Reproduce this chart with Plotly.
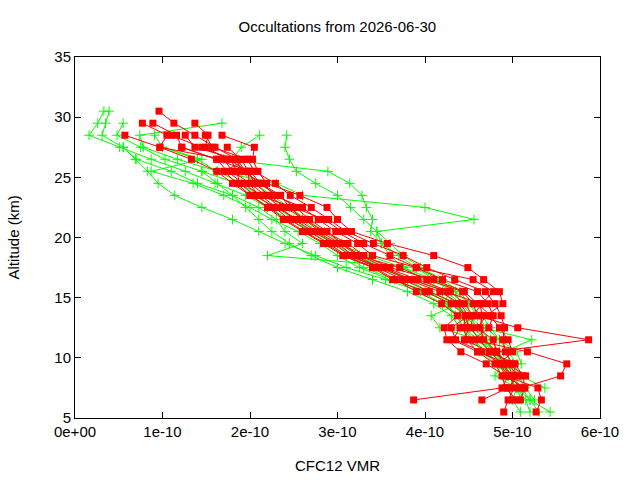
import plotly.graph_objects as go

UNIT = 1e-10  # VMR values below are in units of 1e-10

ALT = [30.5, 29.5, 28.5, 27.5, 26.5, 25.5, 24.5, 23.5, 22.5, 21.5, 20.5, 19.5, 18.5,
       17.5, 16.5, 15.5, 14.5, 13.5, 12.5, 11.5, 10.5, 9.5, 8.5, 7.5, 6.5, 5.5]

N = None
RED_PROFILES = [
    [0.96, 1.13, 1.37, 1.60, 1.85, 1.95, 2.10, 2.32, 2.52, 2.68, 2.88, 3.05, 3.26, 3.55, 3.92, 4.29, 4.45, 4.55, 4.52, 4.62, 4.74, 4.88, 4.97, 5.02, 4.95, 4.90],
    [N, 0.77, 1.05, 0.97, 1.33, 1.62, 1.80, 2.00, 2.22, 2.40, 2.62, 2.86, 3.08, 3.42, 3.66, 3.90, 4.19, 4.37, 4.22, 4.25, 4.41, 4.70, 4.92, 5.29, 5.33, 5.27],
    [N, 0.89, 1.16, 1.22, 1.62, 1.74, 1.92, 2.12, 2.30, 2.55, 2.75, 3.00, 3.18, 3.50, 3.80, 4.17, 4.40, 4.50, 4.30, 4.35, 4.65, 4.86, 4.95, 4.88, 3.87, N],
    [N, 1.37, 1.52, 1.49, 1.75, 1.98, 2.05, 2.22, 2.40, 2.62, 2.80, 3.03, 3.23, 3.71, 4.02, 4.43, 4.55, 4.60, 5.06, 5.87, 4.80, 4.95, 5.06, 4.95, 4.65, N],
    [N, N, 0.57, 0.97, 1.70, 1.80, 2.00, 2.18, 2.35, 2.50, 2.72, 2.95, 3.15, 3.45, 3.74, 4.05, 4.37, 4.46, 4.50, 4.45, 4.74, 5.03, 5.12, 5.14, 5.09, N],
    [N, N, 1.26, 1.37, 1.85, 1.90, 2.15, 2.27, 2.60, 2.78, 2.98, 3.23, 3.40, 3.90, 4.20, 4.60, 4.72, 4.78, 4.73, 4.55, 5.17, 5.62, 5.55, 5.10, N, N],
    [N, N, 1.49, 1.57, 1.97, 2.05, 2.29, 2.46, 2.70, 2.90, 3.10, 3.41, 3.75, 4.02, 4.34, 4.69, 4.80, 4.87, 4.91, 4.89, 4.92, 5.00, 5.05, 4.95, 5.00, N],
    [N, N, 1.68, 2.05, 2.03, 2.09, 2.19, 2.57, 2.88, 3.00, 3.16, 3.57, 4.10, 4.49, 4.67, 4.85, 4.89, 4.70, 4.60, 4.78, 4.82, 4.95, 5.00, N, N, N],
    [N, N, 1.10, 1.45, 1.78, 1.85, 1.88, 2.05, 2.28, 2.45, 2.68, 2.90, 3.10, 3.52, 3.85, 4.25, 4.63, 4.65, 4.63, 4.67, 4.82, 4.90, 4.98, 5.08, N, N],
    [N, N, N, 1.74, 1.90, 1.98, 1.99, 2.10, 2.50, 2.85, 3.05, 3.30, 3.60, 3.90, 4.55, 4.78, 4.65, 4.55, 4.40, 4.32, 4.60, 4.95, 5.15, N, N, N],
    [N, N, N, 1.22, 1.62, 2.00, 2.12, 2.35, 2.45, 2.62, 2.85, 3.12, 3.30, 3.60, 4.10, 4.45, 4.60, 4.75, 4.85, 4.95, 5.00, 4.85, 4.92, 5.14, N, N],
    [N, N, N, N, 1.97, 1.70, 1.85, 2.00, 2.20, 2.38, 2.60, 2.84, 3.06, 3.40, 3.63, 4.00, 4.30, 4.46, 4.44, 4.48, 4.60, 4.80, 4.88, 4.92, 5.05, N],
]

GREEN_PROFILES = [
    [0.33, 0.26, 0.16, 0.51, 0.87, 1.26, 1.60, 1.95, 2.20, 2.45, 2.70, 3.00, 3.35, 3.75, 4.10, 4.35, 4.40, 4.07, 4.17, 4.60, 4.80, 4.95, 5.00, 5.10, 5.20, 5.43],
    [0.39, 0.35, 0.31, 0.55, 0.69, 0.83, 0.95, 1.14, 1.45, 1.80, 2.10, 2.40, 2.75, 3.10, 3.55, 3.95, 4.20, 4.40, 4.55, 4.70, 4.80, 4.88, 4.80, 5.05, 5.00, 5.09],
    [N, 0.55, 0.48, 0.75, 1.03, 1.45, 1.85, 2.15, 2.45, 2.65, 2.85, 3.05, 3.25, 3.45, 3.85, 4.25, 4.40, 4.55, 4.45, 4.60, 4.75, 4.90, 4.95, 5.05, 5.10, N],
    [N, 1.68, 0.74, 0.78, 1.17, 1.63, 1.90, 2.05, 2.30, 2.50, 2.70, 2.90, 3.10, 3.30, 3.65, 4.00, 4.30, 4.50, 4.65, 5.22, 4.90, 5.00, 5.10, 5.37, N, N],
    [N, N, 0.91, 1.00, 1.45, 0.87, 1.35, 1.70, 2.00, 2.25, 2.55, 2.80, 3.00, 3.25, 3.60, 4.05, 4.35, 4.45, 4.60, 4.70, 4.80, 4.90, 5.00, N, N, N],
    [N, N, 2.42, 2.40, 2.45, 2.53, 2.75, 3.00, 3.15, 3.30, 3.45, 3.60, 3.75, 3.95, 4.20, 4.40, 4.50, 4.60, 4.70, 4.85, 5.05, 5.10, N, N, N, N],
    [N, N, N, 0.55, 0.70, 1.10, 1.40, 1.80, 2.10, 2.30, 2.40, 2.60, 2.20, 3.90, 4.10, 4.30, 4.20, 4.40, 4.50, 4.65, 4.80, 4.95, 5.05, 5.15, 5.25, N],
    [N, N, N, 1.00, 1.40, 1.62, 2.30, 2.60, 4.00, 4.56, 3.45, 3.50, 3.70, 3.90, 4.15, 4.35, 4.50, 4.65, 4.75, 4.85, 4.95, 5.05, N, N, N, N],
    [N, N, N, N, 1.70, 2.89, 3.14, 3.28, 3.33, 3.40, 3.38, 3.50, 3.60, 3.75, 4.00, 4.20, 4.35, 4.50, 4.60, 4.75, 4.85, N, N, N, N, N],
    [N, N, 2.11, 1.90, 1.80, 1.90, 2.05, 2.25, 2.45, 2.60, 2.75, 2.95, 3.20, 3.55, 3.80, 4.05, 4.25, 4.35, 4.45, 4.55, 4.65, 4.80, 4.95, 5.05, 5.15, 5.20],
    [N, N, N, N, N, 1.45, 1.63, 1.80, 1.95, 2.10, 2.25, 2.45, 2.70, 3.00, 3.40, 3.80, 4.10, 4.30, 4.40, 4.55, 4.70, 4.85, 4.95, 5.05, 5.20, 5.30],
]

X_TICKS = [0, 1, 2, 3, 4, 5, 6]
X_TICK_TEXT = ["0e+00", "1e-10", "2e-10", "3e-10", "4e-10", "5e-10", "6e-10"]
Y_TICKS = [5, 10, 15, 20, 25, 30, 35]

RED = "#ff0000"
GREEN = "#00ff00"
FONT = "Liberation Sans, Arial, sans-serif"


def pairs(profile):
    xs, ys = [], []
    for v, a in zip(profile, ALT):
        if v is not None:
            xs.append(v * UNIT)
            ys.append(a)
    return xs, ys


fig = go.Figure()
for prof in GREEN_PROFILES:
    xs, ys = pairs(prof)
    fig.add_trace(go.Scatter(x=xs, y=ys, mode="lines+markers",
                             line=dict(color=GREEN, width=1),
                             marker=dict(symbol="cross-thin", size=7,
                                         line=dict(color=GREEN, width=1)),
                             showlegend=False, hoverinfo="skip"))
for prof in RED_PROFILES:
    xs, ys = pairs(prof)
    fig.add_trace(go.Scatter(x=xs, y=ys, mode="lines+markers",
                             line=dict(color=RED, width=1),
                             marker=dict(symbol="square", size=7, color=RED, line=dict(width=0)),
                             showlegend=False, hoverinfo="skip"))

axis_common = dict(showline=True, linecolor="black", linewidth=1, mirror="ticks",
                   ticks="inside", ticklen=6, tickcolor="black", tickwidth=1,
                   showgrid=False, zeroline=False, automargin=False,
                   tickfont=dict(family=FONT, size=15, color="black"))

fig.update_layout(
    width=640, height=480,
    margin=dict(l=75, r=40, t=57, b=62),
    paper_bgcolor="white", plot_bgcolor="white",
    title=dict(text="Occultations from 2026-06-30", x=0.527, xanchor="center",
               y=1 - 27 / 480, yanchor="middle",
               font=dict(family=FONT, size=15, color="black")),
    font=dict(family=FONT, size=15, color="black"),
    xaxis=dict(range=[0, 6 * UNIT], tickvals=[t * UNIT for t in X_TICKS],
               ticktext=X_TICK_TEXT, **axis_common),
    yaxis=dict(range=[5, 35], tickvals=Y_TICKS, **axis_common),
    annotations=[
        dict(text="CFC12 VMR", xref="paper", yref="paper",
             x=0.5, y=-47 / 361, xanchor="center", yanchor="middle",
             showarrow=False, font=dict(family=FONT, size=15, color="black")),
        dict(text="Altitude (km)", xref="paper", yref="paper",
             x=-62 / 525, y=0.5, xanchor="center", yanchor="middle", textangle=-90,
             showarrow=False, font=dict(family=FONT, size=15, color="black")),
    ],
)

fig.write_html("out.html")
